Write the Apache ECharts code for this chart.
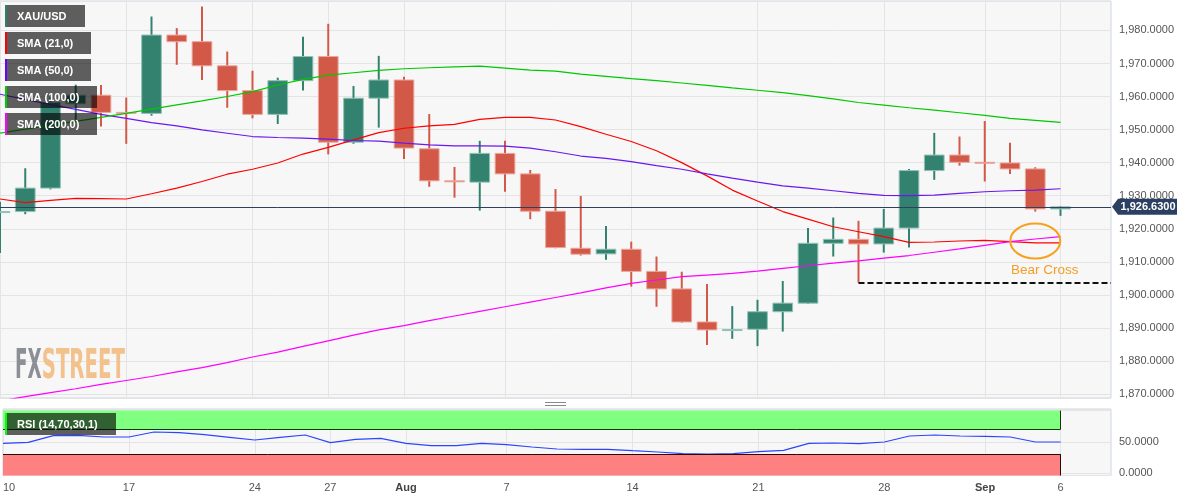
<!DOCTYPE html>
<html>
<head>
<meta charset="utf-8">
<script src="https://cdn.jsdelivr.net/npm/echarts@6/dist/echarts.min.js"></script>
<style>
html,body{margin:0;padding:0;background:#ffffff;}
#c{width:1194px;height:501px;}
</style>
</head>
<body>
<div id="c"></div>
<script>
// ---------------- DATA ----------------
const dates = [
  '2023-07-10','2023-07-11','2023-07-12','2023-07-13','2023-07-14',
  '2023-07-17','2023-07-18','2023-07-19','2023-07-20','2023-07-21',
  '2023-07-24','2023-07-25','2023-07-26','2023-07-27','2023-07-28',
  '2023-07-31','2023-08-01','2023-08-02','2023-08-03','2023-08-04',
  '2023-08-07','2023-08-08','2023-08-09','2023-08-10','2023-08-11',
  '2023-08-14','2023-08-15','2023-08-16','2023-08-17','2023-08-18',
  '2023-08-21','2023-08-22','2023-08-23','2023-08-24','2023-08-25',
  '2023-08-28','2023-08-29','2023-08-30','2023-08-31','2023-09-01',
  '2023-09-04','2023-09-05','2023-09-06',
  '2023-09-07','2023-09-08'
];
const opens  = [1924.9,1925.2,1932.3,1957.8,1960.4,1955.2,1954.9,1978.6,1976.6,1969.3,
                1961.8,1954.6,1964.8,1972.1,1946.2,1959.5,1965.0,1944.2,1934.5,1934.1,
                1942.8,1936.6,1925.3,1914.1,1912.4,1913.8,1907.1,1901.8,1891.8,1889.3,
                1889.6,1894.9,1897.5,1915.6,1916.8,1915.4,1920.2,1937.6,1942.3,1940.1,
                1939.9,1938.1,1926.0];
const highs  = [1928.2,1938.3,1959.8,1963.6,1963.5,1959.7,1984.2,1980.7,1987.2,1973.6,
                1967.8,1965.7,1978.1,1982.0,1963.2,1972.3,1966.0,1954.7,1938.7,1946.6,
                1946.6,1937.8,1932.0,1929.9,1920.8,1916.1,1911.6,1907.0,1903.3,1896.6,
                1898.5,1904.2,1920.2,1923.4,1922.4,1926.0,1938.1,1949.0,1947.9,1952.6,
                1946.0,1938.6,1926.9];
const lows   = [1912.7,1924.4,1931.9,1953.0,1950.9,1945.7,1954.2,1969.6,1965.0,1956.6,
                1953.4,1951.7,1961.8,1942.5,1945.7,1950.6,1941.1,1932.7,1929.4,1925.5,
                1931.2,1922.9,1914.1,1911.9,1910.6,1902.5,1896.4,1891.6,1884.8,1886.7,
                1884.5,1888.9,1897.3,1911.6,1903.7,1912.8,1914.3,1934.8,1939.1,1934.3,
                1936.6,1925.2,1923.9];
const closes = [1925.2,1932.3,1958.2,1960.4,1955.2,1954.9,1978.6,1976.6,1969.3,1961.8,
                1954.6,1964.8,1972.1,1946.2,1959.5,1965.0,1944.4,1934.5,1934.3,1942.8,
                1936.6,1925.3,1914.3,1912.3,1913.8,1907.1,1901.8,1891.8,1889.4,1889.5,
                1894.9,1897.5,1915.6,1916.8,1915.4,1920.2,1937.6,1942.3,1940.1,1940.0,
                1938.1,1926.0,1926.63];
const sma21  = [1929.0,1927.9,1928.6,1929.2,1929.1,1929.0,1930.6,1932.3,1934.3,1936.5,
                1938.0,1939.9,1942.6,1944.6,1946.9,1949.1,1950.4,1951.1,1951.6,1953.1,
                1953.7,1953.7,1952.9,1950.9,1948.6,1946.4,1943.6,1940.0,1936.0,1931.7,
                1928.4,1925.2,1922.9,1920.6,1919.1,1917.6,1915.9,1916.0,1916.3,1916.5,
                1916.1,1915.7,1915.7];
const sma50  = [1960.7,1959.1,1957.6,1956.1,1954.6,1953.4,1952.1,1951.1,1949.9,1948.9,
                1947.9,1947.6,1947.4,1947.1,1946.7,1946.5,1945.9,1945.4,1945.1,1945.1,
                1945.0,1944.4,1943.3,1942.0,1941.3,1940.3,1939.1,1938.0,1936.6,1935.3,
                1934.1,1933.0,1932.3,1931.5,1930.7,1930.1,1930.0,1930.2,1930.7,1931.2,
                1931.5,1931.7,1932.1];
const sma100 = [1948.9,1950.1,1951.3,1952.5,1953.7,1954.9,1956.2,1957.5,1958.7,1960.0,
                1961.5,1963.5,1965.2,1966.5,1967.2,1967.9,1968.4,1968.7,1969.0,1969.2,
                1968.6,1968.0,1967.7,1966.8,1966.1,1965.4,1964.8,1964.1,1963.4,1962.6,
                1961.9,1961.2,1960.3,1959.3,1958.2,1957.4,1956.6,1955.9,1955.1,1954.3,
                1953.4,1952.8,1952.2];
const sma200 = [1867.9,1869.2,1870.4,1871.6,1872.9,1874.1,1875.3,1876.7,1878.0,1879.5,
                1881.2,1882.7,1884.4,1886.1,1887.8,1889.4,1890.7,1892.2,1893.6,1895.0,
                1896.4,1897.8,1899.2,1900.6,1902.1,1903.5,1904.5,1905.5,1906.0,1906.5,
                1907.2,1908.0,1908.8,1909.6,1910.3,1911.1,1911.9,1912.9,1913.9,1915.0,
                1916.1,1916.9,1917.6];
const rsi    = [47.6,49.2,59.8,60.4,57.7,57.7,65.7,64.6,61.4,57.2,
                52.9,57.2,60.9,48.6,54.0,55.6,47.6,43.8,43.8,47.6,
                45.4,41.7,38.5,38.0,38.0,35.8,33.7,31.0,30.5,31.0,
                34.2,36.4,47.6,48.1,47.0,49.7,59.3,60.9,59.3,58.8,
                57.7,49.7,49.7];
const labelIdx   = [0,5,10,13,16,20,25,30,35,39,42];
const tickLabels = ['10','17','24','27','Aug','7','14','21','28','Sep','6'];
const legendNames = ['XAU/USD','SMA (21,0)','SMA (50,0)','SMA (100,0)','SMA (200,0)'];
const rsiName = 'RSI (14,70,30,1)';
const rsiUpper = 70, rsiLower = 30;
const supportIdx = 34;       // low of this candle marks the dashed support
const crossIdx = 41;         // bear cross location
const annotationText = 'Bear Cross';

// ---------------- CHART ----------------
const F = '"Liberation Sans", Arial, Helvetica, sans-serif';
const N = opens.length;
const last = closes[N - 1];
const PMIN = 1868.8, PMAX = 1988.9;
const RMIN = -3.9, RMAX = 102.5;
const isLabel = (i) => labelIdx.indexOf(i) >= 0;

function fmtNum(v) {
  const s = Number(v).toFixed(4);
  const parts = s.split('.');
  return parts[0].replace(/\B(?=(\d{3})+(?!\d))/g, ',') + '.' + parts[1];
}

const candleData = opens.map((o, i) => [dates[i], o, closes[i], lows[i], highs[i]]);

function renderCandle(params, api) {
  const x = api.value(0);
  const o = api.value(1), c = api.value(2), l = api.value(3), h = api.value(4);
  const pO = api.coord([x, o]), pC = api.coord([x, c]);
  const pL = api.coord([x, l]), pH = api.coord([x, h]);
  const w = api.size([1, 0])[0] * 0.78;
  const up = c >= o;
  const fill = up ? '#338270' : '#d25848';
  const stroke = up ? '#93c2b6' : '#eba79e';
  const top = Math.min(pO[1], pC[1]);
  const bot = Math.max(pO[1], pC[1]);
  return {
    type: 'group',
    children: [
      { type: 'line', shape: { x1: pH[0], y1: pH[1], x2: pL[0], y2: pL[1] },
        style: { stroke: fill, lineWidth: 2 } },
      { type: 'rect', shape: { x: pO[0] - w / 2, y: top, width: w, height: Math.max(bot - top, 1) },
        style: { fill: fill, stroke: stroke, lineWidth: 1 } }
    ]
  };
}

const chart = echarts.init(document.getElementById('c'), null, { renderer: 'canvas' });

const splitX = { show: true, interval: (i) => isLabel(i), lineStyle: { color: '#e4e4e4', width: 1 } };

const option = {
  animation: false,
  backgroundColor: '#ffffff',
  grid: [
    { left: 0, right: 83, top: 1, height: 397, show: true, backgroundColor: '#f7f7f7', borderColor: '#cdd5e6', borderWidth: 1 },
    { left: 0, right: 83, top: 409, height: 66.5, show: true, backgroundColor: '#f7f7f7', borderColor: '#cdd5e6', borderWidth: 1 }
  ],
  xAxis: [
    { type: 'category', gridIndex: 0, data: dates, boundaryGap: false,
      axisLine: { show: false }, axisTick: { show: false },
      axisLabel: { show: false, interval: (i) => isLabel(i) },
      splitLine: splitX },
    { type: 'category', gridIndex: 1, data: dates, boundaryGap: false,
      axisLine: { show: false }, axisTick: { show: false },
      axisLabel: {
        show: true, interval: (i) => isLabel(i), color: '#555', fontSize: 11, fontFamily: F, margin: 7,
        alignMinLabel: 'left',
        formatter: (val, idx) => {
          const k = labelIdx.indexOf(idx);
          if (k < 0) return '';
          const t = tickLabels[k];
          return /^[A-Z]/.test(t) ? '{b|' + t + '}' : t;
        },
        rich: { b: { fontWeight: 'bold', color: '#444', fontSize: 11, fontFamily: F } }
      },
      splitLine: splitX }
  ],
  yAxis: [
    { type: 'value', gridIndex: 0, position: 'right', min: PMIN, max: PMAX, splitNumber: 12,
      axisLine: { show: false }, axisTick: { show: false },
      axisLabel: {
        color: '#555', fontSize: 11, fontFamily: F, margin: 8, showMinLabel: false, showMaxLabel: false,
        formatter: (v) => {
          const r = Math.round(v / 10) * 10;
          if (Math.abs(v - r) > 1e-6 || r < 1870 || r > 1980) return '';
          return fmtNum(r);
        }
      },
      splitLine: { show: true, lineStyle: { color: '#e4e4e4', width: 1 } } },
    { type: 'value', gridIndex: 1, position: 'right', min: RMIN, max: RMAX, splitNumber: 2,
      axisLine: { show: false }, axisTick: { show: false },
      axisLabel: {
        color: '#555', fontSize: 11, fontFamily: F, margin: 8, showMinLabel: false, showMaxLabel: false,
        formatter: (v) => {
          const r = Math.round(v);
          if (Math.abs(v - r) > 1e-6 || (r !== 0 && r !== 50)) return '';
          return fmtNum(r);
        }
      },
      splitLine: { show: true, lineStyle: { color: '#e4e4e4', width: 1 } } }
  ],
  series: [
    { type: 'custom', name: 'XAU/USD', xAxisIndex: 0, yAxisIndex: 0, data: candleData,
      encode: { x: 0, y: [1, 2, 3, 4] }, clip: true, renderItem: renderCandle, silent: true,
      markLine: {
        silent: true, symbol: ['none', 'none'], label: { show: false },
        data: [
          [ { coord: [dates[0], last], lineStyle: { color: '#2f3f5c', width: 1, type: 'solid' } },
            { coord: [dates[dates.length - 1], last] } ],
          [ { coord: [dates[supportIdx], lows[supportIdx]], lineStyle: { color: '#111111', width: 2, type: [6, 3] } },
            { coord: [dates[dates.length - 1], lows[supportIdx]] } ]
        ]
      }
    },
    { type: 'line', name: 'SMA (21,0)', xAxisIndex: 0, yAxisIndex: 0, data: sma21, symbol: 'none', silent: true,
      lineStyle: { color: '#ff0000', width: 1.2 } },
    { type: 'line', name: 'SMA (50,0)', xAxisIndex: 0, yAxisIndex: 0, data: sma50, symbol: 'none', silent: true,
      lineStyle: { color: '#6a18f0', width: 1.2 } },
    { type: 'line', name: 'SMA (100,0)', xAxisIndex: 0, yAxisIndex: 0, data: sma100, symbol: 'none', silent: true,
      lineStyle: { color: '#00c800', width: 1.2 } },
    { type: 'line', name: 'SMA (200,0)', xAxisIndex: 0, yAxisIndex: 0, data: sma200, symbol: 'none', silent: true,
      lineStyle: { color: '#ff00ff', width: 1.2 } },
    { type: 'line', name: 'RSI', xAxisIndex: 1, yAxisIndex: 1, data: rsi, symbol: 'none', silent: true,
      lineStyle: { color: '#2b45ff', width: 1.2 },
      markArea: {
        silent: true,
        data: [
          [ { xAxis: dates[0], yAxis: rsiUpper, itemStyle: { color: '#80ff80' } }, { xAxis: dates[N - 1], yAxis: 100 } ],
          [ { xAxis: dates[0], yAxis: RMIN, itemStyle: { color: '#ff8080' } }, { xAxis: dates[N - 1], yAxis: rsiLower } ]
        ]
      },
      markLine: {
        silent: true, symbol: ['none', 'none'], label: { show: false },
        lineStyle: { type: 'solid', width: 1 },
        data: [
          [ { coord: [dates[0], rsiUpper], lineStyle: { color: '#0f3a0f', type: 'solid', width: 1 } }, { coord: [dates[N - 1], rsiUpper] } ],
          [ { coord: [dates[N - 1], rsiUpper], lineStyle: { color: '#0f3a0f', type: 'solid', width: 1 } }, { coord: [dates[N - 1], 100] } ],
          [ { coord: [dates[0], rsiLower], lineStyle: { color: '#2a0808', type: 'solid', width: 1 } }, { coord: [dates[N - 1], rsiLower] } ],
          [ { coord: [dates[N - 1], RMIN], lineStyle: { color: '#2a0808', type: 'solid', width: 1 } }, { coord: [dates[N - 1], rsiLower] } ]
        ]
      }
    }
  ]
};
chart.setOption(option);

// ---------------- OVERLAYS ----------------
const px = (i, v) => chart.convertToPixel({ xAxisIndex: 0, yAxisIndex: 0 }, [dates[i], v]);
const graphics = [];
const boxFill = 'rgba(0,0,0,0.62)';
const stripeColors = ['#2e7d6e', '#ff0000', '#6600ff', '#00cc00', '#ff00ff'];
const measure = document.createElement('canvas').getContext('2d');

function legendBox(text, color, y, z) {
  measure.font = '600 11px ' + F;
  const w = Math.round(measure.measureText(text).width) + 30;
  graphics.push({ type: 'rect', z: z, shape: { x: 5, y: y, width: w, height: 22 }, style: { fill: boxFill } });
  graphics.push({ type: 'rect', z: z + 1, shape: { x: 5, y: y, width: 2, height: 22 }, style: { fill: color } });
  graphics.push({ type: 'text', z: z + 1, style: { text: text, x: 17, y: y + 11.5, fill: '#ffffff',
    font: '600 11px ' + F, verticalAlign: 'middle', align: 'left' } });
}
legendNames.forEach((n, k) => legendBox(n, stripeColors[k], 5 + k * 27, 100));
legendBox(rsiName, '#00ff00', 413, 100);

// watermark
measure.font = 'bold 40px "DejaVu Sans Condensed", "DejaVu Sans", sans-serif';
const wFX = measure.measureText('FX').width;
const wST = measure.measureText('STREET').width;
graphics.push({ type: 'text', z: 1, x: 15, y: 368, scaleX: 26.7 / wFX,
  style: { text: 'FX', x: 0, y: 0, fill: '#8c8f96', font: 'bold 40px "DejaVu Sans Condensed", "DejaVu Sans", sans-serif', verticalAlign: 'middle', align: 'left' } });
graphics.push({ type: 'text', z: 1, x: 41.7, y: 368, scaleX: 83.3 / wST,
  style: { text: 'STREET', x: 0, y: 0, fill: '#f2c18c', font: 'bold 40px "DejaVu Sans Condensed", "DejaVu Sans", sans-serif', verticalAlign: 'middle', align: 'left' } });

// bear cross annotation
const cc = px(crossIdx, (sma21[crossIdx] + sma200[crossIdx]) / 2);
graphics.push({ type: 'ellipse', z: 50, shape: { cx: cc[0], cy: cc[1], rx: 25, ry: 17.5 },
  style: { fill: 'none', stroke: '#f7a11a', lineWidth: 2 } });
graphics.push({ type: 'text', z: 50, style: { text: annotationText, x: cc[0] + 9.5, y: cc[1] + 29.5,
  fill: '#f59d22', font: '13.5px ' + F, align: 'center', verticalAlign: 'middle' } });

// last price tag
const lp = px(N - 1, last);
const gx = 1111, ty = lp[1];
graphics.push({ type: 'polygon', z: 60, shape: { points: [[gx + 1, ty], [gx + 7, ty - 8], [gx + 66, ty - 8], [gx + 66, ty + 8], [gx + 7, ty + 8]] },
  style: { fill: '#2b3f63' } });
graphics.push({ type: 'text', z: 61, style: { text: fmtNum(last), x: gx + 37, y: ty + 0.5, fill: '#ffffff',
  font: 'bold 11px ' + F, align: 'center', verticalAlign: 'middle' } });

// panel divider handle
graphics.push({ type: 'line', z: 60, shape: { x1: 545, y1: 402.5, x2: 566, y2: 402.5 }, style: { stroke: '#888', lineWidth: 1 } });
graphics.push({ type: 'line', z: 60, shape: { x1: 545, y1: 405.5, x2: 566, y2: 405.5 }, style: { stroke: '#888', lineWidth: 1 } });

chart.setOption({ graphic: graphics });
</script>
</body>
</html>
